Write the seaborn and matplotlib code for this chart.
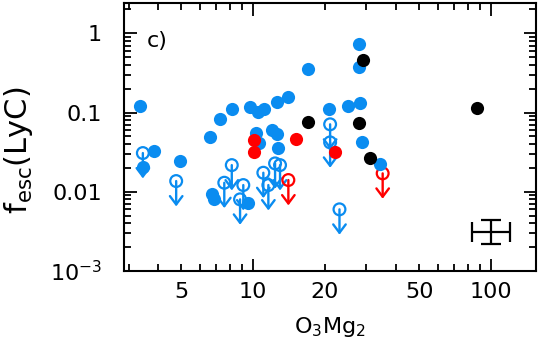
import numpy as np
import pandas as pd
import matplotlib
matplotlib.use('Agg')
import matplotlib.pyplot as plt
import seaborn as sns

# detections (filled symbols)
blue_x = [3.35, 3.83, 3.44, 4.92, 6.57, 7.26, 8.19, 9.71, 10.47, 11.16, 12.58, 14.08,
          17.09, 20.94, 25.0, 28.2, 28.0, 28.0, 10.29, 10.6, 12.05, 12.58, 12.7,
          28.6, 34.2, 6.75, 6.85, 9.5]
blue_y = [0.121, 0.0329, 0.0205, 0.0248, 0.0486, 0.0828, 0.111, 0.116, 0.102, 0.111,
          0.137, 0.158, 0.351, 0.111, 0.122, 0.131, 0.726, 0.372, 0.0556, 0.0409,
          0.0601, 0.0531, 0.0353, 0.0428, 0.0222, 0.00935, 0.0081, 0.00714]
black_x = [17.04, 29.1, 28.0, 31.0, 87.8]
black_y = [0.0752, 0.46, 0.0731, 0.0269, 0.115]
red_x = [10.1, 10.1, 15.12, 22.1]
red_y = [0.045, 0.0314, 0.0459, 0.0314]

# upper limits (open symbols with arrows)
blue_lim_x = [3.44, 4.75, 8.14, 7.57, 9.1, 8.82, 11.05, 11.6, 12.38, 12.99, 21.1, 21.1, 23.1]
blue_lim_y = [0.0308, 0.01365, 0.0217, 0.013, 0.01215, 0.00802, 0.01738, 0.01215,
              0.0228, 0.0217, 0.071, 0.042, 0.006]
red_lim_x = [14.08, 35.1]
red_lim_y = [0.01406, 0.01707]

# typical error bar
err_x = [100]
err_y = [0.00313]

BLUE = '#0a8cf0'
RED = '#ff0000'

sns.set_style('ticks')
plt.rcParams['font.family'] = ['DejaVu Sans']
plt.rcParams['mathtext.fontset'] = 'dejavusans'
plt.rcParams['text.color'] = 'black'
plt.rcParams['axes.labelcolor'] = 'black'
plt.rcParams['xtick.color'] = 'black'
plt.rcParams['ytick.color'] = 'black'

fig = plt.figure(figsize=(5.38, 3.5), dpi=100)
ax = fig.add_axes([0.2305, 0.2257, 0.7658, 0.7657])
ax.set_xscale('log')
ax.set_yscale('log')

arrow_dex = 0.32
for lx, ly, col in [(blue_lim_x, blue_lim_y, BLUE), (red_lim_x, red_lim_y, RED)]:
    for x, y in zip(lx, ly):
        ax.annotate('', xy=(x, y * 10 ** -arrow_dex), xytext=(x, y),
                    arrowprops=dict(arrowstyle='->,head_length=0.6,head_width=0.45',
                                    color=col, lw=1.7, shrinkA=0, shrinkB=0))
    sns.scatterplot(x=lx, y=ly, ax=ax, marker='o', s=72, facecolor='none',
                    edgecolor=col, linewidth=1.6, zorder=3)

sns.scatterplot(x=blue_x, y=blue_y, ax=ax, color=BLUE, s=90, linewidth=0, zorder=4)
sns.scatterplot(x=red_x, y=red_y, ax=ax, color=RED, s=90, linewidth=0, zorder=5)
sns.scatterplot(x=black_x, y=black_y, ax=ax, color='black', s=90, linewidth=0, zorder=5)

ex = np.array(err_x)
ey = np.array(err_y)
ax.errorbar(ex, ey,
            xerr=[ex - ex * 10 ** -0.08, ex * 10 ** 0.08 - ex],
            yerr=[ey - ey * 10 ** -0.15, ey * 10 ** 0.15 - ey],
            fmt='none', ecolor='black', elinewidth=1.6, capsize=7.5, capthick=1.6)

ax.set_xlim(2.866, 155)
ax.set_ylim(1e-3, 2.41)

ax.set_xticks([10, 100])
ax.set_xticklabels(['10', '100'])
minor_x = [3, 4, 5, 6, 7, 8, 9, 20, 30, 40, 50, 60, 70, 80, 90]
ax.set_xticks(minor_x, minor=True)
ax.set_xticklabels(['5' if v == 5 else '20' if v == 20 else '50' if v == 50 else ''
                    for v in minor_x], minor=True)

ax.set_yticks([1e-3, 1e-2, 1e-1, 1])
ax.set_yticklabels([r'10$^{-3}$', '0.01', '0.1', '1'])
minor_y = [m * 10.0 ** e for e in [-3, -2, -1, 0] for m in range(2, 10) if m * 10.0 ** e < 2.41]
ax.set_yticks(minor_y, minor=True)
ax.set_yticklabels([], minor=True)

ax.tick_params(which='both', direction='in', top=True, right=True, width=1.3,
               labelsize=16, color='black', labelcolor='black')
ax.tick_params(which='major', length=9)
ax.tick_params(which='minor', length=4.7)
ax.tick_params(axis='x', which='both', pad=8)
ax.tick_params(axis='y', which='both', pad=16)
for sp in ax.spines.values():
    sp.set_linewidth(1.5)
    sp.set_color('black')

ax.set_xlabel(r'O$_3$Mg$_2$', fontsize=16, labelpad=9, color='black')
ax.set_ylabel(r'f$_{\rm esc}$(LyC)', fontsize=22, color='black')
ax.yaxis.set_label_coords(-0.215, 0.45)
ax.text(0.056, 0.86, 'c)', transform=ax.transAxes, fontsize=16, va='center', ha='left',
        color='black')

fig.savefig('out.png', dpi=100)
